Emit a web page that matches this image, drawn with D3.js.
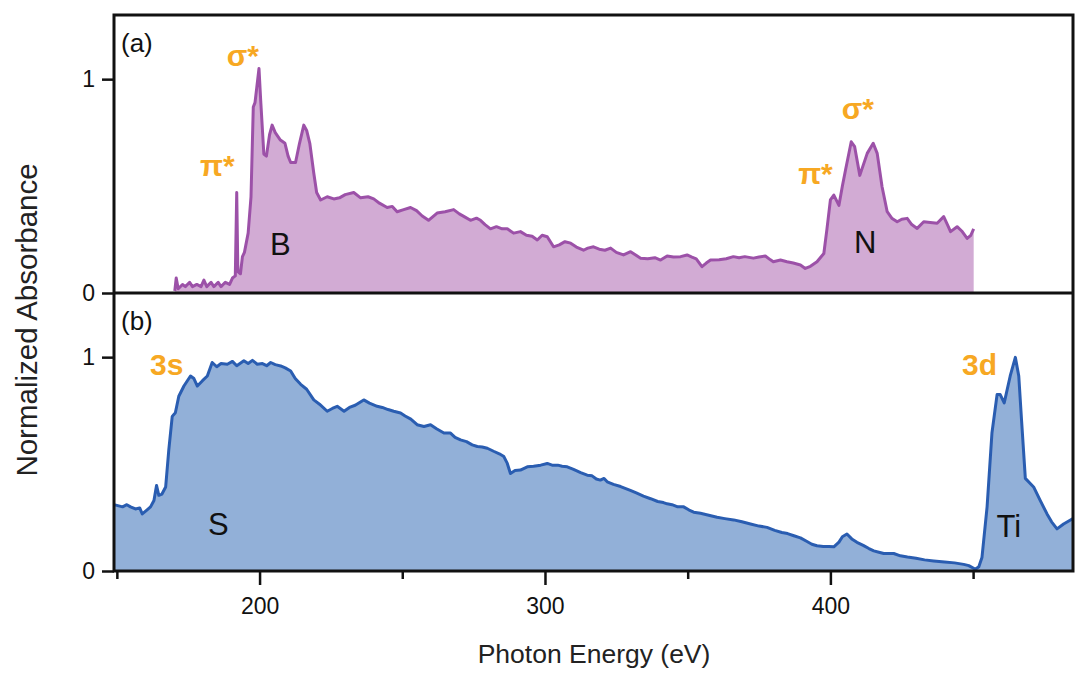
<!DOCTYPE html>
<html><head>
<meta charset="utf-8">
<script src="https://d3js.org/d3.v7.min.js"></script>
<style>
  body { margin: 0; background: #fff; }
  svg text { font-family: Helvetica, Arial, "Liberation Sans", sans-serif; }
  .axis path { display: none; }
  .axis line { stroke: #111; stroke-width: 2.5px; }
  .axis text { font-size: 23px; fill: #111; }
  .frame { fill: none; stroke: #111; stroke-width: 3px; }
  .peak { fill: #f7a823; font-weight: bold; font-size: 30px; }
  .elem { fill: #111; font-size: 31px; }
</style>
</head>
<body>
<svg id="chart" width="1080" height="677"></svg>
<script>

// photon energy (eV) / normalized absorbance
// (a) boron + nitrogen K edges
const energyA = [170.3,170.8,171.5,173,174,175.5,176.5,178,179.5,180.5,181.5,183,184,185.5,186.5,188,189.5,190.5,191.5,192,192.4,193.3,194,194.7,196,197,197.8,198.4,199.8,200.4,201.5,202.4,203.5,204.4,205.5,207.3,208.9,210,210.9,212.6,214,215.5,216.5,217.6,219,220,221.4,223.7,226,228,230,233,235.4,238,240,242,244.7,246.5,248.2,250.5,252.9,255,257,259.2,262.2,265,268,270,272,273.9,276,277.4,279,280.9,283,285,286.8,289,291.4,293.5,295.5,297.3,299,300.8,303,305,307,309,311,313.5,315,317,319,321,323,325,327.5,330,331.5,333.5,336,338.5,340.5,342.8,345,347.5,349.8,351.5,353,355,356.5,358,361,363.5,366,368,370,373,375,377.2,379,380,382.5,384.8,387,389.5,391.2,393,395.3,397.7,398.8,400,401.2,403,404.2,405.3,407.3,408.5,410.3,412.9,415,416.4,418.1,419.9,421.5,423.4,425,426.9,428.5,430.4,432.7,435,437.4,439.7,441,442.1,444.4,446,447.9,449.2,450.2];
const absorbA = [0.01,0.07,0.02,0.04,0.03,0.05,0.03,0.04,0.03,0.06,0.03,0.05,0.03,0.05,0.03,0.05,0.04,0.07,0.08,0.47,0.10,0.09,0.17,0.19,0.28,0.45,0.87,0.89,1.05,0.90,0.65,0.64,0.74,0.785,0.75,0.715,0.70,0.64,0.61,0.61,0.70,0.785,0.76,0.70,0.56,0.47,0.435,0.45,0.44,0.445,0.46,0.47,0.445,0.45,0.44,0.42,0.40,0.405,0.38,0.39,0.40,0.385,0.36,0.34,0.374,0.38,0.39,0.37,0.355,0.34,0.35,0.34,0.32,0.30,0.31,0.30,0.30,0.28,0.287,0.27,0.265,0.248,0.27,0.263,0.216,0.225,0.24,0.233,0.215,0.20,0.21,0.216,0.205,0.20,0.21,0.19,0.178,0.193,0.18,0.163,0.16,0.165,0.154,0.173,0.168,0.17,0.178,0.168,0.16,0.123,0.14,0.154,0.155,0.16,0.17,0.165,0.17,0.163,0.168,0.173,0.155,0.146,0.154,0.146,0.14,0.131,0.115,0.125,0.146,0.185,0.30,0.435,0.458,0.41,0.50,0.575,0.707,0.684,0.55,0.653,0.70,0.653,0.497,0.38,0.35,0.333,0.345,0.349,0.32,0.302,0.333,0.33,0.326,0.357,0.32,0.287,0.31,0.29,0.255,0.27,0.30];

// (b) sulfur L edge + titanium L edge
const energyB = [149,150,152,153.5,154.8,156.5,158,158.9,160.5,161.8,163,163.9,164.7,165.8,167.1,168.2,169.4,170.5,171.7,173.5,175.8,177,178.2,180,181.7,183.4,185,186.5,188.7,190.5,192,194.5,196,197.5,199.2,201,202.5,203.9,205.5,207.4,209,210.9,212.5,214.4,216.5,219,221,223.7,225.5,227.2,229.6,231.5,233.5,236.5,238.5,241.2,243,245,247,249.4,251,253,255.2,257.6,259.9,262,264.6,266.9,268.5,270.4,272.5,274.5,276.3,278,279.8,282,284,285.6,286.8,287.9,289.5,291.4,293.8,296,298.5,300.8,302.5,304.5,306,307.8,310,312.5,314.8,316.5,318,319.4,320.7,321.8,324,326.5,329.9,332,334.5,337,339.5,341.5,342.8,344.5,346.5,348.6,350.5,352.1,354.5,357,360.3,363,366.1,369,372,375,377.8,380.5,383,385,387.2,389.5,391.5,393.5,395.3,397.5,399.5,401.2,403,404.2,405.8,407.5,409.3,411.5,413.5,415.2,417,418.7,420.5,422.2,424.5,427,430,433,436.2,440,443.5,446.7,448.5,450.8,452,453.1,454.9,456.6,458.4,459.5,460.9,463,464.8,466,467,468.3,471.2,473.5,475.9,477.5,479.4,481.7,485];
const absorbB = [0.31,0.307,0.30,0.31,0.30,0.29,0.295,0.267,0.285,0.30,0.33,0.40,0.354,0.36,0.393,0.566,0.723,0.74,0.817,0.865,0.912,0.90,0.865,0.89,0.912,0.975,0.955,0.97,0.967,0.98,0.96,0.983,0.97,0.985,0.967,0.97,0.96,0.975,0.965,0.959,0.95,0.935,0.90,0.873,0.85,0.80,0.78,0.747,0.76,0.77,0.747,0.765,0.775,0.80,0.785,0.77,0.765,0.755,0.747,0.739,0.725,0.71,0.684,0.676,0.684,0.665,0.645,0.645,0.625,0.613,0.605,0.59,0.582,0.58,0.574,0.56,0.548,0.535,0.503,0.456,0.47,0.472,0.487,0.49,0.495,0.503,0.495,0.495,0.49,0.487,0.475,0.46,0.448,0.445,0.43,0.425,0.433,0.417,0.405,0.395,0.377,0.365,0.35,0.338,0.325,0.32,0.314,0.31,0.30,0.30,0.285,0.275,0.27,0.262,0.251,0.245,0.239,0.23,0.22,0.21,0.204,0.19,0.18,0.175,0.165,0.155,0.14,0.125,0.118,0.115,0.114,0.113,0.135,0.16,0.173,0.15,0.134,0.12,0.105,0.094,0.088,0.082,0.082,0.082,0.071,0.065,0.06,0.052,0.047,0.042,0.038,0.031,0.025,0.008,0.02,0.063,0.30,0.645,0.825,0.825,0.786,0.912,0.999,0.912,0.70,0.433,0.393,0.33,0.267,0.23,0.197,0.22,0.245];

const xTicksMajor = [200, 300, 400];
const xTicksMinor = [150, 250, 350, 450];
const yTicks = [0, 1];

// panel annotations: [text, energy at left edge, absorbance at baseline]
const peakLabelsA = [["σ*", 188.5, 1.061], ["π*", 179.1, 0.545], ["σ*", 404.0, 0.814], ["π*", 388.7, 0.51]];
const elemLabelsA = [["B", 203.7, 0.178], ["N", 408.3, 0.187]];
const peakLabelsB = [["3s", 161.6, 0.917], ["3d", 446.1, 0.917]];
const elemLabelsB = [["S", 181.9, 0.168], ["Ti", 458.2, 0.159]];

const svg = d3.select("#chart");
const left = 114, right = 1073;
const topA = 15, botA = 293, botB = 571;

const x = d3.scaleLinear().domain([149, 485]).range([left, right]);
const yA = d3.scaleLinear().domain([0, 1.3]).range([botA, topA]);
const yB = d3.scaleLinear().domain([0, 1.3]).range([botB, botA]);

const defs = svg.append("defs");
defs.append("clipPath").attr("id", "clipA").append("rect")
  .attr("x", left).attr("y", topA).attr("width", right - left).attr("height", botA - topA);
defs.append("clipPath").attr("id", "clipB").append("rect")
  .attr("x", left).attr("y", botA).attr("width", right - left).attr("height", botB - botA);

function drawSpectrum(energy, absorb, y, clip, fillCol, lineCol) {
  const pts = energy.map((e, i) => [e, absorb[i]]);
  const g = svg.append("g").attr("clip-path", "url(#" + clip + ")");
  g.append("path").datum(pts)
    .attr("fill", fillCol)
    .attr("d", d3.area().x(d => x(d[0])).y0(y(0)).y1(d => y(d[1])));
  g.append("path").datum(pts)
    .attr("fill", "none").attr("stroke", lineCol).attr("stroke-width", 3)
    .attr("stroke-linejoin", "round")
    .attr("d", d3.line().x(d => x(d[0])).y(d => y(d[1])));
}

drawSpectrum(energyA, absorbA, yA, "clipA", "#d2abd4", "#9c51a8");
drawSpectrum(energyB, absorbB, yB, "clipB", "#92b0d8", "#2a5db1");

// y axes, one per panel
svg.append("g").attr("class", "axis").attr("transform", "translate(" + left + ",0)")
  .call(d3.axisLeft(yA).tickValues(yTicks).tickSize(12).tickPadding(7).tickFormat(d3.format("d")));
svg.append("g").attr("class", "axis").attr("transform", "translate(" + left + ",0)")
  .call(d3.axisLeft(yB).tickValues(yTicks).tickSize(12).tickPadding(7).tickFormat(d3.format("d")));

// x axis: long labelled ticks and short minor ones
svg.append("g").attr("class", "axis").attr("transform", "translate(0," + botB + ")")
  .call(d3.axisBottom(x).tickValues(xTicksMinor).tickSize(8).tickFormat(""));
svg.append("g").attr("class", "axis").attr("transform", "translate(0," + botB + ")")
  .call(d3.axisBottom(x).tickValues(xTicksMajor).tickSize(14).tickPadding(13).tickFormat(d3.format("d")));

// frame + divider
svg.append("rect").attr("class", "frame")
  .attr("x", left).attr("y", topA).attr("width", right - left).attr("height", botB - topA);
svg.append("line").attr("stroke", "#111").attr("stroke-width", 3)
  .attr("x1", left).attr("x2", right).attr("y1", botA).attr("y2", botA);

// labels
function labels(list, y, cls) {
  svg.append("g").selectAll("text").data(list).join("text")
    .attr("class", cls)
    .attr("x", d => x(d[1])).attr("y", d => y(d[2]))
    .text(d => d[0]);
}
labels(peakLabelsA, yA, "peak");
labels(elemLabelsA, yA, "elem");
labels(peakLabelsB, yB, "peak");
labels(elemLabelsB, yB, "elem");

svg.append("text").attr("x", 121).attr("y", 52).style("font-size", "26px").attr("fill", "#111").text("(a)");
svg.append("text").attr("x", 121).attr("y", 330).style("font-size", "26px").attr("fill", "#111").text("(b)");

svg.append("text").attr("x", (left + right) / 2 + 0.5).attr("y", 663)
  .attr("text-anchor", "middle").style("font-size", "26.5px").attr("fill", "#222")
  .text("Photon Energy (eV)");
svg.append("text").attr("transform", "translate(37,320) rotate(-90)")
  .attr("text-anchor", "middle").style("font-size", "29.5px").attr("fill", "#222")
  .text("Normalized Absorbance");

</script>
</body>
</html>
